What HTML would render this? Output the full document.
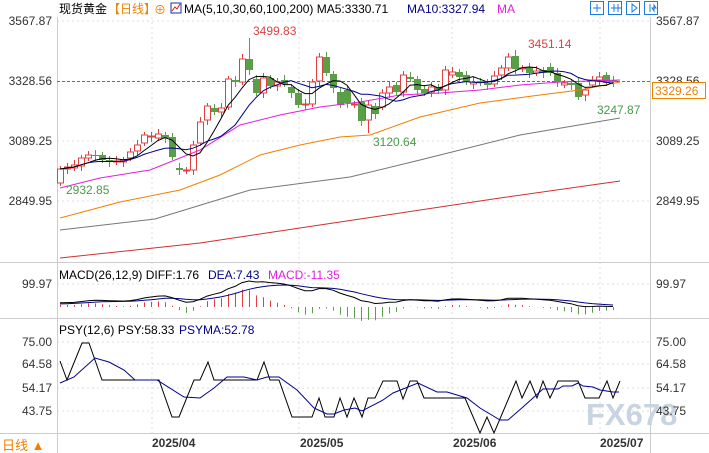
<!DOCTYPE html>
<html><head><meta charset="utf-8"><style>
html,body{margin:0;padding:0;background:#fff;width:709px;height:453px;overflow:hidden;}
svg text{font-family:"Liberation Sans","Noto Sans CJK SC",sans-serif;}
</style></head><body>
<svg id="s" width="709" height="453" xmlns="http://www.w3.org/2000/svg" style="display:block">
<rect width="709" height="453" fill="#fff"/>
<g id="grid" stroke="#ddd" stroke-dasharray="2,3" stroke-width="1">
<line x1="57" y1="21" x2="650" y2="21"/><line x1="57" y1="141" x2="650" y2="141"/><line x1="57" y1="201" x2="650" y2="201"/>
<line x1="57" y1="284" x2="650" y2="284"/>
<line x1="57" y1="342" x2="650" y2="342"/><line x1="57" y1="364" x2="650" y2="364"/><line x1="57" y1="388" x2="650" y2="388"/><line x1="57" y1="411" x2="650" y2="411"/>
<line x1="152" y1="17" x2="152" y2="433"/><line x1="299" y1="17" x2="299" y2="433"/><line x1="452" y1="17" x2="452" y2="433"/><line x1="600" y1="17" x2="600" y2="433"/>
</g>
<g stroke="#ccc" stroke-width="1">
<line x1="57.5" y1="17" x2="57.5" y2="453"/><line x1="650.5" y1="17" x2="650.5" y2="453"/>
<line x1="0" y1="262.5" x2="709" y2="262.5"/><line x1="0" y1="318.5" x2="709" y2="318.5"/><line x1="0" y1="433.5" x2="709" y2="433.5"/>
</g>
<text x="586" y="425" font-size="31" fill="#c8d4e2" font-weight="bold" font-family="Liberation Sans">FX678</text>
<line x1="57" y1="81.5" x2="650" y2="81.5" stroke="#1e7be0" stroke-dasharray="3,2"/>
<g id="plot"></g>
<g font-size="12" fill="#333">
<text x="52" y="25" text-anchor="end">3567.87</text><text x="52" y="85" text-anchor="end">3328.56</text><text x="52" y="145" text-anchor="end">3089.25</text><text x="52" y="205" text-anchor="end">2849.95</text>
<text x="52" y="288" text-anchor="end">99.97</text>
<text x="52" y="346" text-anchor="end">75.00</text><text x="52" y="368" text-anchor="end">64.58</text><text x="52" y="392" text-anchor="end">54.17</text><text x="52" y="415" text-anchor="end">43.75</text>
<text x="656" y="25">3567.87</text><text x="656" y="85">3328.56</text><text x="656" y="145">3089.25</text><text x="656" y="205">2849.95</text>
<text x="656" y="288">99.97</text>
<text x="656" y="346">75.00</text><text x="656" y="368">64.58</text><text x="656" y="392">54.17</text><text x="656" y="415">43.75</text>
</g>
<rect x="652.5" y="82.5" width="53" height="16" fill="#fff" stroke="#f08000"/>
<text x="655" y="95" font-size="12" fill="#f08000">3329.26</text>
<g font-size="12" font-weight="bold" fill="#333">
<text x="152" y="447">2025/04</text><text x="300" y="447">2025/05</text><text x="453" y="447">2025/06</text><text x="600" y="447">2025/07</text>
</g>
<text x="2" y="450" font-size="13" fill="#f08000">日线 ▲</text>
<g font-size="12">
<text x="253" y="35" fill="#e04040">3499.83</text>
<text x="66" y="194" fill="#4a9a4a">2932.85</text>
<text x="373" y="146" fill="#4a9a4a">3120.64</text>
<text x="528" y="48" fill="#e04040">3451.14</text>
<text x="597" y="114" fill="#4a9a4a">3247.87</text>
</g>
<g font-size="12">
<text x="59" y="13" fill="#000">现货黄金</text>
<text x="108" y="13" fill="#f08000">【日线】</text>
<text x="154" y="14" fill="#f08000">⊕</text>
<rect x="171" y="3" width="10" height="10" fill="#fff" stroke="#1030a0"/>
<polyline points="172,11 175,7 177,9 180,4" fill="none" stroke="#d02020"/>
<text x="184" y="13" fill="#000">MA(5,10,30,60,100,200) MA5:3330.71</text>
<text x="407" y="13" fill="#00008b">MA10:3327.94</text>
<text x="497" y="13" fill="#e020e0">MA</text>
</g>
<g fill="none" stroke="#1e7be0">
<rect x="590.5" y="1.5" width="13" height="13"/><rect x="608.5" y="1.5" width="13" height="13"/><rect x="626.5" y="1.5" width="13" height="13"/><rect x="644.5" y="1.5" width="13" height="13"/>
<path d="M597 4v8M593 8h8M614 4v8M618 4v8M611 8h10M632 4v8l5-4zM650 4v8M652 8h4l-2-3v6z"/>
</g>
<g font-size="12">
<text x="59" y="279" fill="#000">MACD(26,12,9) DIFF:1.76</text>
<text x="208" y="279" fill="#00008b">DEA:7.43</text>
<text x="268" y="279" fill="#e020e0">MACD:-11.35</text>
<text x="59" y="334" fill="#000">PSY(12,6) PSY:58.33</text>
<text x="179" y="334" fill="#00008b">PSYMA:52.78</text>
</g>
<polyline fill="none" stroke="#000" points="60,361 67,380 82,343 89,343 102,380 135,380 159,380 172,417 179,417 194,380 200,380 208,362 214,380 257,380 264,362 270,380 279,380 292,417 312,417 319,398 325,417 334,417 340,398 347,417 354,398 362,417 368,398 375,398 383,381 397,381 403,399 410,381 417,381 424,398 465,398 480,433 487,417 494,433 516,381 522,398 530,381 537,398 543,381 550,398 558,381 578,381 585,398 599,398 607,381 613,398 620,381"/>
<polyline fill="none" stroke="#00008b" points="60,383 74,377 95,358 109,362 124,370 135,380 157,380 184,397 200,398 214,388 227,377 244,377 257,380 267,377 279,377 297,390 314,408 327,414 334,414 344,410 355,408 362,411 383,400 393,393 418,383 437,392 447,392 467,398 480,408 500,420 508,420 523,407 543,389 558,389 563,386 572,386 578,383 583,386 593,387 600,390 613,392 619,392"/>
</svg>
<script>
const C=[[183,169],[169,167],[168,165],[166,158],[158,155],[155,156],[155,160],[160,162],[162,161],[162,160],[158,152],[151,145],[143,135],[137,136],[138,134],[135,138],[137,157],[168,170],[171,170],[170,145],[143,122],[120,106],[108,112],[112,108],[107,79],[80,82],[82,59],[59,70],[79,93],[93,78],[78,86],[86,82],[80,84],[87,93],[93,105],[105,104],[104,82],[81,57],[57,73],[74,88],[92,105],[90,103],[105,104],[102,121],[120,105],[106,114],[107,93],[93,87],[85,92],[92,75],[77,79],[79,90],[89,93],[92,87],[87,91],[90,70],[75,72],[72,77],[75,82],[84,82],[81,83],[83,85],[84,76],[75,68],[68,57],[56,69],[69,68],[67,73],[73,71],[70,73],[67,73],[73,82],[85,83],[83,85],[83,97],[95,90],[85,80],[80,77],[75,83],[80,82]];
const X=i=>60+i*7;
let h='';
C.forEach((c,i)=>{const[o,cl]=c;const up=cl<=o;const t=Math.min(o,cl),b=Math.max(o,cl);
let hi=t-3-(i%3),lo=b+3+(i%2)*2; if(i==27)hi=38;if(i==65)hi=50;if(i==44)lo=133;if(i==75)lo=101;if(i==0)lo=186;
const col=up?'#e04040':'#5a9e48';const x=X(i);
h+=`<line x1="${x+.5}" y1="${hi}" x2="${x+.5}" y2="${lo}" stroke="${col}"/>`;
if(up)h+=`<rect x="${x-2.5}" y="${t}" width="6" height="${Math.max(b-t,1)}" fill="#fff" stroke="${col}"/>`;
else h+=`<rect x="${x-3}" y="${t}" width="7" height="${Math.max(b-t,1)}" fill="${col}"/>`;
});
const ys=C.map(c=>c[1]);
function ma(n){return ys.map((v,i)=>{const s=ys.slice(Math.max(0,i-n+1),i+1);return s.reduce((a,b)=>a+b,0)/s.length;});}
function pl(pts,col,w){return `<polyline points="${pts.map(p=>p.join(',')).join(' ')}" fill="none" stroke="${col}" stroke-width="${w||1}"/>`;}
h+=pl([[60,258],[200,243],[360,219],[500,198],[620,181]],'#d03030');
h+=pl([[60,230],[155,219],[250,190],[350,177],[420,160],[520,135],[620,118]],'#777');
h+=pl([[60,218],[120,202],[180,190],[220,175],[260,155],[300,145],[340,137],[370,135],[420,117],[480,103],[540,95],[580,90],[620,82]],'#f08000');
h+=pl([[60,188],[100,178],[150,170],[200,150],[240,125],[280,115],[320,107],[360,102],[400,95],[440,93],[480,90],[520,85],[560,82],[620,80]],'#e020e0');
h+=pl(ma(10).map((v,i)=>[X(i),v.toFixed(1)]),'#00008b');
h+=pl(ma(5).map((v,i)=>[X(i),v.toFixed(1)]),'#000');
const P=ys.map(y=>3567.87-(y-21)/0.25072);
let e12=P[0]-15,e26=P[0]-30,dea=10;const dif=[],de=[],hs=[];
P.forEach(p=>{e12=e12+(p-e12)*2/13;e26=e26+(p-e26)*2/27;const d=e12-e26;dea=dea+(d-dea)*2/10;dif.push(d);de.push(dea);hs.push(2*(d-dea));});
const k=0.28,z=307;
hs.forEach((v,i)=>{h+=`<line x1="${X(i)+.5}" y1="${z}" x2="${X(i)+.5}" y2="${(z-v*k).toFixed(1)}" stroke="${v>=0?'#e04040':'#5a9e48'}"/>`;});
h+=pl(de.map((v,i)=>[X(i),(z-v*k).toFixed(1)]),'#00008b');
h+=pl(dif.map((v,i)=>[X(i),(z-v*k).toFixed(1)]),'#000');
document.getElementById('plot').innerHTML=h;
</script>
</body></html>
